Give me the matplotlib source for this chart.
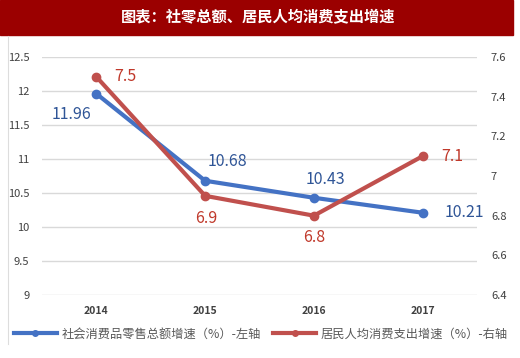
import numpy as np
import matplotlib.pyplot as plt
from matplotlib.patches import Rectangle
from matplotlib.lines import Line2D

plt.rcParams['font.family'] = ['Noto Sans CJK SC', 'DejaVu Sans']

years = ['2014', '2015', '2016', '2017']
retail = [11.96, 10.68, 10.43, 10.21]
spend = [7.5, 6.9, 6.8, 7.1]
left_ticks = [9, 9.5, 10, 10.5, 11, 11.5, 12, 12.5]
right_ticks = [6.4, 6.6, 6.8, 7.0, 7.2, 7.4, 7.6]
title = '图表：社零总额、居民人均消费支出增速'
lab_retail = '社会消费品零售总额增速（%）-左轴'
lab_spend = '居民人均消费支出增速（%）-右轴'

blue = '#4472C4'
red = '#C0504D'
blue_txt = '#2F5597'
red_txt = '#C0392B'

fig = plt.figure(figsize=(5.2, 3.58), dpi=100)

## title banner and frame
fig.patches.append(Rectangle((0, 1 - 35/358), 513/520, 35/358, transform=fig.transFigure,
                             color='#9B0000', zorder=0))
fig.text(258/520, 1 - 17/358, title, color='white', fontsize=11, fontweight='bold',
         ha='center', va='center')
fig.lines.append(Line2D([8/520, 8/520], [0.04, 1 - 36/358], transform=fig.transFigure,
                        color='#DDDDDD', lw=0.8))

ax = fig.add_axes([42/520, 1 - 295/358, 435/520, 238/358])
x = np.arange(len(years))
ax.plot(x, retail, color=blue, lw=3, marker='o', ms=6, zorder=3)
ax.set_xlim(-0.5, 3.5)
ax.set_ylim(9, 12.5)
ax.set_yticks(left_ticks)
ax.set_yticklabels(['9', '9.5', '10', '10.5', '11', '11.5', '12', '12.5'])
ax.set_xticks(x)
ax.set_xticklabels(years, fontweight='bold')
ax.grid(axis='y', color='#D9D9D9', lw=1)
ax.set_axisbelow(True)
for s in ax.spines.values():
    s.set_visible(False)
ax.tick_params(length=0, labelsize=8, colors='#404040')
ax.tick_params(axis='y', pad=9)
ax.tick_params(axis='x', pad=8, labelsize=7.5)

ax2 = ax.twinx()
ax2.plot(x, spend, color=red, lw=3, marker='o', ms=6, zorder=3)
ax2.set_ylim(6.4, 7.6)
ax2.set_yticks(right_ticks)
ax2.set_yticklabels(['6.4', '6.6', '6.8', '7', '7.2', '7.4', '7.6'])
for s in ax2.spines.values():
    s.set_visible(False)
ax2.tick_params(length=0, labelsize=8, colors='#404040', pad=10)

## data labels
offs_b = [(-18, -15), (16, 14), (8, 13), (30, 0)]
for xi, v, (dx, dy) in zip(x, retail, offs_b):
    ax.annotate(f'{v:.2f}', (xi, v), xytext=(dx, dy), textcoords='offset points',
                ha='center', va='center', color=blue_txt, fontsize=11.5)
offs_r = [(21, 0), (1, -16), (0, -16), (21, 0)]
for xi, v, (dx, dy) in zip(x, spend, offs_r):
    ax2.annotate(f'{v:g}', (xi, v), xytext=(dx, dy), textcoords='offset points',
                 ha='center', va='center', color=red_txt, fontsize=11.5)

h1 = Line2D([], [], color=blue, lw=3, marker='o', ms=4)
h2 = Line2D([], [], color=red, lw=3, marker='o', ms=4)
fig.legend([h1, h2], [lab_retail, lab_spend], loc='center', bbox_to_anchor=(261/520, 1 - 334/358),
           ncol=2, frameon=False, fontsize=8.8, handlelength=3.5, columnspacing=1.0,
           handletextpad=0.4, labelcolor='#595959')

fig.savefig('out.png', dpi=100)
